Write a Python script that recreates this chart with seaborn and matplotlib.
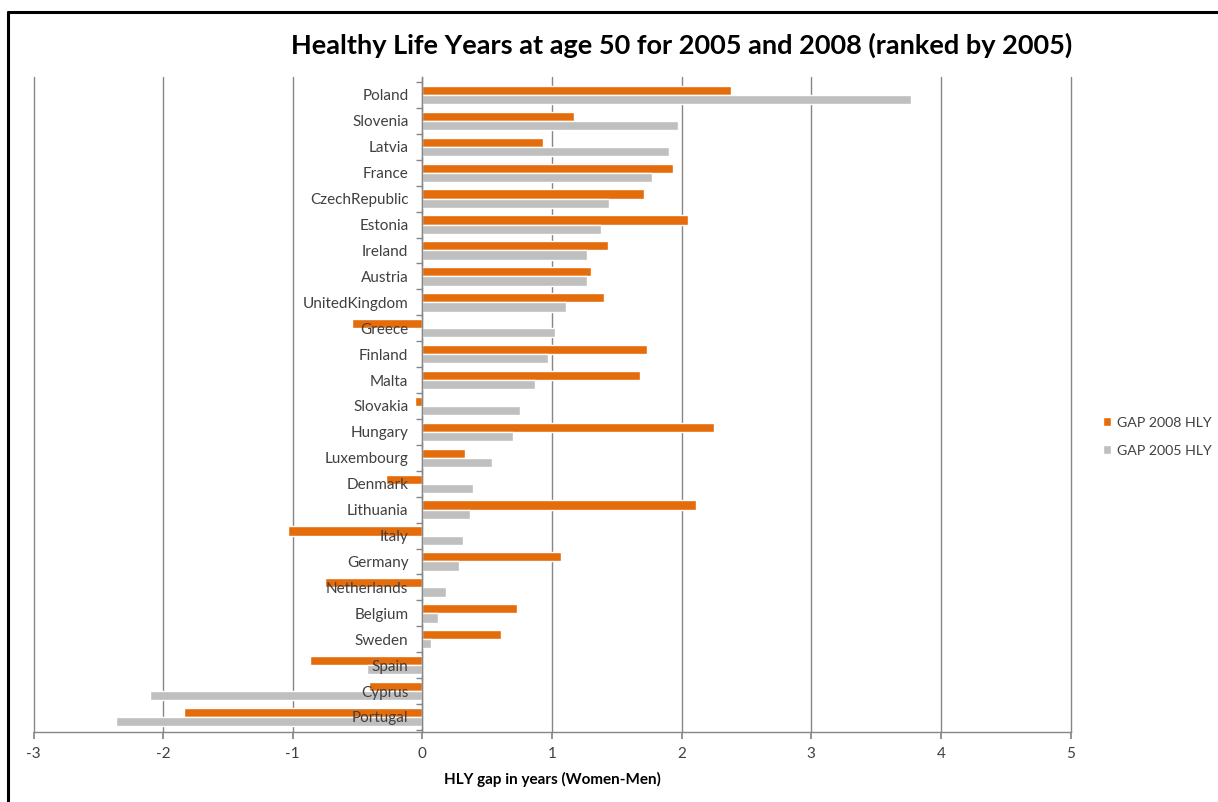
import matplotlib
matplotlib.use("Agg")
import matplotlib.pyplot as plt
from matplotlib.lines import Line2D
from matplotlib.ticker import FixedLocator
import seaborn as sns
import pandas as pd
import numpy as np

countries = ["Poland", "Slovenia", "Latvia", "France", "CzechRepublic", "Estonia",
             "Ireland", "Austria", "UnitedKingdom", "Greece", "Finland", "Malta",
             "Slovakia", "Hungary", "Luxembourg", "Denmark", "Lithuania", "Italy",
             "Germany", "Netherlands", "Belgium", "Sweden", "Spain", "Cyprus", "Portugal"]
gap_2008 = [2.38, 1.17, 0.93, 1.93, 1.71, 2.05, 1.43, 1.30, 1.40, -0.54, 1.73, 1.68,
            -0.06, 2.25, 0.33, -0.28, 2.11, -1.04, 1.07, -0.75, 0.73, 0.61, -0.87, -0.41, -1.84]
gap_2005 = [3.77, 1.97, 1.90, 1.77, 1.44, 1.38, 1.27, 1.27, 1.11, 1.02, 0.97, 0.87,
            0.75, 0.70, 0.54, 0.39, 0.37, 0.31, 0.28, 0.18, 0.12, 0.07, -0.43, -2.10, -2.36]
series_names = ["GAP 2008 HLY", "GAP 2005 HLY"]
series_colors = ["#E46C0A", "#BFBFBF"]
x_ticks = [-3, -2, -1, 0, 1, 2, 3, 4, 5]

df = pd.DataFrame({
    "country": countries * 2,
    "gap": gap_2008 + gap_2005,
    "series": [series_names[0]] * len(countries) + [series_names[1]] * len(countries),
})

sns.set_theme(style="white")
plt.rcParams["font.family"] = ["Lato", "DejaVu Sans"]

W, H = 1218, 802
fig = plt.figure(figsize=(W / 100, H / 100), dpi=100)
ax = fig.add_axes([33.5 / W, 1 - 732 / H, (1070.5 - 33.5) / W, (732 - 77) / H])

sns.barplot(data=df, x="gap", y="country", hue="series", order=countries,
            hue_order=series_names, palette=series_colors, width=0.71,
            orient="h", saturation=1, errorbar=None, ax=ax, legend=True, zorder=3)

grid_c = "#868686"
text_c = "#404040"
ax.set_xlim(-3, 5)
ax.set_ylim(24.58, -0.694)
ax.xaxis.set_major_locator(FixedLocator(x_ticks))
ax.set_xticklabels([str(t) for t in x_ticks], fontsize=11, color=text_c)
ax.grid(axis="x", color=grid_c, linewidth=1.0)
ax.grid(axis="y", visible=False)
ax.set_axisbelow(True)
for gl in ax.get_xgridlines():
    gl.set_clip_on(False)

for s in ["top", "right"]:
    ax.spines[s].set_visible(False)
ax.spines["left"].set_position(("data", 0))
ax.spines["left"].set_color(grid_c)
ax.spines["left"].set_zorder(4)
ax.spines["bottom"].set_color(grid_c)
ax.spines["bottom"].set_linewidth(1.0)
ax.spines["left"].set_linewidth(1.0)

ax.tick_params(axis="x", which="major", length=5, color=grid_c, direction="out",
               bottom=True, pad=6)
ax.yaxis.set_minor_locator(FixedLocator(np.arange(-0.5, len(countries), 1.0)))
ax.tick_params(axis="y", which="major", length=0, pad=10, labelsize=11,
               labelcolor=text_c, left=True)
ax.tick_params(axis="y", which="minor", length=4, color=grid_c, direction="out", left=True)
# category names sit on top of the bars
ax.yaxis.set_zorder(10)

ax.set_xlabel("")
ax.set_ylabel("")

leg = ax.legend(loc="center left", bbox_to_anchor=(1103 / W, 1 - 436.7 / H),
                bbox_transform=fig.transFigure, frameon=False, fontsize=10.2,
                borderpad=0, borderaxespad=0,
                handlelength=0.58, handleheight=0.58, handletextpad=0.38,
                labelspacing=1.15, labelcolor=text_c)

fig.text(682 / W, 1 - 45 / H, "Healthy Life Years at age 50 for 2005 and 2008 (ranked by 2005)",
         ha="center", va="center", fontsize=19.5, fontweight="bold", color="#000000")
fig.text(552 / W, 1 - 779 / H, "HLY gap in years (Women-Men)", ha="center", va="center",
         fontsize=11, fontweight="bold", color="#000000")

fig.add_artist(Line2D([8 / W, 1.0], [1 - 12 / H, 1 - 12 / H], color="black", lw=2.2,
                      transform=fig.transFigure))
fig.add_artist(Line2D([8 / W, 8 / W], [0.0, 1 - 12 / H], color="black", lw=2.2,
                      transform=fig.transFigure))

fig.savefig("out.png", dpi=100, facecolor="white")
